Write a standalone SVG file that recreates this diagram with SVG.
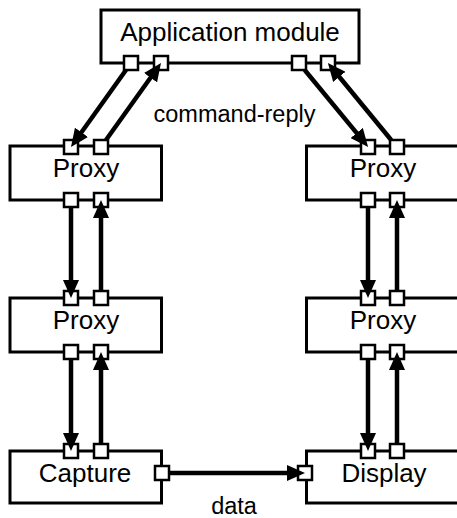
<svg xmlns="http://www.w3.org/2000/svg" width="457" height="518" viewBox="0 0 457 518">
<defs>
<marker id="arr" markerUnits="userSpaceOnUse" markerWidth="18" markerHeight="16" refX="7" refY="8" orient="auto">
<path d="M0,0 L18,8 L0,16 Z" fill="#000"/>
</marker>
<style>
.box{fill:#fff;stroke:#000;stroke-width:3}
.port{fill:#fff;stroke:#000;stroke-width:2.5}
.lbl{font-family:"Liberation Sans",Arial,sans-serif;font-size:26px;fill:#000;text-anchor:middle}
.elbl{font-family:"Liberation Sans",Arial,sans-serif;font-size:23.5px;fill:#000;text-anchor:middle}
.con{stroke:#000;stroke-width:4.5;fill:none;marker-end:url(#arr)}
</style>
</defs>
<rect width="457" height="518" fill="#fff"/>
<g id="app">
<rect class="box" x="101" y="10" width="258" height="53"/>
<text class="lbl" x="230" y="41">Application module</text>
<rect class="port" x="124" y="56" width="14" height="14"/>
<rect class="port" x="154" y="56" width="14" height="14"/>
<rect class="port" x="292" y="56" width="14" height="14"/>
<rect class="port" x="321" y="56" width="14" height="14"/>
</g>
<g id="proxyL1">
<rect class="box" x="10" y="146" width="151.5" height="54"/>
<text class="lbl" x="86" y="177">Proxy</text>
<rect class="port" x="64" y="140" width="14" height="14"/>
<rect class="port" x="94" y="140" width="14" height="14"/>
<rect class="port" x="64" y="193" width="14" height="14"/>
<rect class="port" x="94" y="193" width="14" height="14"/>
</g>
<g id="proxyL2">
<rect class="box" x="10" y="298" width="151.5" height="54"/>
<text class="lbl" x="86" y="329">Proxy</text>
<rect class="port" x="64" y="291" width="14" height="14"/>
<rect class="port" x="94" y="291" width="14" height="14"/>
<rect class="port" x="64" y="345" width="14" height="14"/>
<rect class="port" x="94" y="345" width="14" height="14"/>
</g>
<g id="capture">
<rect class="box" x="10" y="451" width="151.5" height="52"/>
<text class="lbl" x="85" y="482">Capture</text>
<rect class="port" x="64" y="444" width="14" height="14"/>
<rect class="port" x="94" y="444" width="14" height="14"/>
<rect class="port" x="155" y="466" width="14" height="14"/>
</g>
<g id="proxyR1">
<rect class="box" x="306.5" y="146" width="153" height="54"/>
<text class="lbl" x="383" y="177">Proxy</text>
<rect class="port" x="361" y="140" width="14" height="14"/>
<rect class="port" x="390" y="140" width="14" height="14"/>
<rect class="port" x="361" y="193" width="14" height="14"/>
<rect class="port" x="390" y="193" width="14" height="14"/>
</g>
<g id="proxyR2">
<rect class="box" x="306.5" y="298" width="153" height="54"/>
<text class="lbl" x="383" y="329">Proxy</text>
<rect class="port" x="361" y="291" width="14" height="14"/>
<rect class="port" x="390" y="291" width="14" height="14"/>
<rect class="port" x="361" y="345" width="14" height="14"/>
<rect class="port" x="390" y="345" width="14" height="14"/>
</g>
<g id="display">
<rect class="box" x="306.5" y="451" width="153" height="52"/>
<text class="lbl" x="384" y="482">Display</text>
<rect class="port" x="361" y="444" width="14" height="14"/>
<rect class="port" x="390" y="444" width="14" height="14"/>
<rect class="port" x="298" y="466" width="14" height="14"/>
</g>
<g id="connectors">
<line class="con" x1="126" y1="70" x2="77.4" y2="138.0"/>
<line class="con" x1="106" y1="140" x2="154.6" y2="72.0"/>
<line class="con" x1="304.7" y1="70" x2="361.1" y2="138.4"/>
<line class="con" x1="391.2" y1="140" x2="334.9" y2="71.5"/>
<line class="con" x1="71" y1="208" x2="71" y2="287"/>
<line class="con" x1="101" y1="290" x2="101" y2="211"/>
<line class="con" x1="71" y1="360" x2="71" y2="440"/>
<line class="con" x1="101" y1="443" x2="101" y2="363"/>
<line class="con" x1="368" y1="208" x2="368" y2="287"/>
<line class="con" x1="397" y1="290" x2="397" y2="211"/>
<line class="con" x1="368" y1="360" x2="368" y2="440"/>
<line class="con" x1="397" y1="443" x2="397" y2="363"/>
<line class="con" x1="170" y1="473" x2="294" y2="473"/>
<text class="elbl" x="234.5" y="122">command-reply</text>
<text class="elbl" x="234" y="514">data</text>
</g>
</svg>
